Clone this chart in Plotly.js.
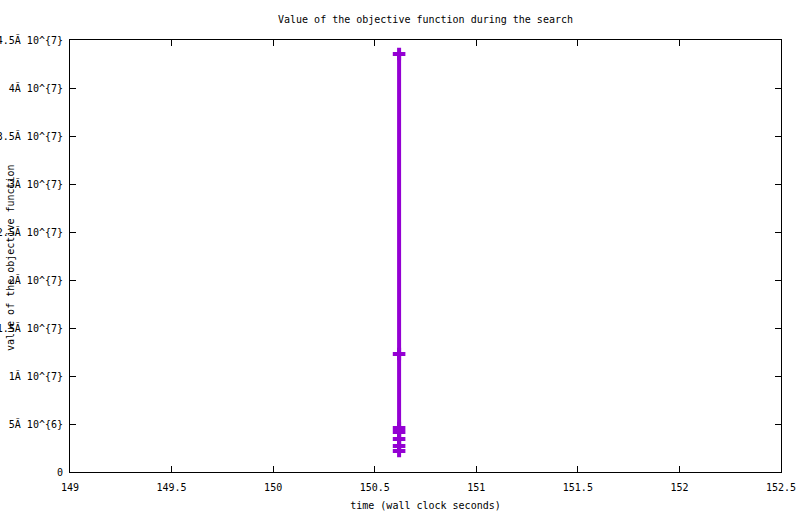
<!DOCTYPE html>
<html>
<head>
<meta charset="utf-8">
<script src="https://cdn.plot.ly/plotly-3.0.1.min.js"></script>
<style>html,body{margin:0;padding:0;background:#fff;}#chart{width:800px;height:514px;}</style>
</head>
<body>
<div id="chart"></div>
<script>
// time (wall clock seconds) of each evaluation
const times = [150.62, 150.62, 150.62, 150.62, 150.62, 150.62, 150.62];
// value of the objective function
const values = [43540000, 12290000, 4580000, 4170000, 3440000, 2710000, 2190000];

const xTickVals = [149, 149.5, 150, 150.5, 151, 151.5, 152, 152.5];
const xTickText = ["149", "149.5", "150", "150.5", "151", "151.5", "152", "152.5"];
const yTickVals = [0, 5e6, 1e7, 1.5e7, 2e7, 2.5e7, 3e7, 3.5e7, 4e7, 4.5e7];
const yTickText = ["0", "5Ă 10^{6}", "1Ă 10^{7}", "1.5Ă 10^{7}", "2Ă 10^{7}", "2.5Ă 10^{7}",
                   "3Ă 10^{7}", "3.5Ă 10^{7}", "4Ă 10^{7}", "4.5Ă 10^{7}"];

const color = "#9400d3";
const font = {family: "DejaVu Sans Mono, monospace", size: 10, color: "#000"};

const trace = {
  x: times, y: values, type: "scatter", mode: "lines+markers",
  line: {color: color, width: 4},
  marker: {symbol: "cross-thin", size: 9, color: color, line: {color: color, width: 4}},
  showlegend: false, hoverinfo: "skip"
};

const axisCommon = {
  showline: true, linecolor: "#000", linewidth: 1, mirror: "ticks",
  ticks: "inside", ticklen: 6, tickcolor: "#000", tickwidth: 1,
  showgrid: false, zeroline: false, tickfont: font, automargin: false
};

const layout = {
  width: 800, height: 514,
  margin: {l: 70, r: 19, t: 40, b: 42},
  paper_bgcolor: "#fff", plot_bgcolor: "#fff",
  font: font,
  title: {text: "Value of the objective function during the search", font: font,
          x: 0.5, xref: "paper", y: 1 - 19/514, yref: "container", yanchor: "middle"},
  xaxis: Object.assign({}, axisCommon, {
    range: [149, 152.5], tickmode: "array", tickvals: xTickVals, ticktext: xTickText,
    ticklabelstandoff: 6,
    title: {text: "time (wall clock seconds)", font: font, standoff: 9}
  }),
  yaxis: Object.assign({}, axisCommon, {
    range: [0, 4.5e7], tickmode: "array", tickvals: yTickVals, ticktext: yTickText,
    ticklabelstandoff: 4
  }),
  annotations: [{
    text: "value of the objective function", textangle: -90, showarrow: false,
    xref: "paper", yref: "paper", x: (10 - 70) / 711, y: (472 - 258) / 432,
    xanchor: "center", yanchor: "middle", font: font
  }]
};

Plotly.newPlot("chart", [trace], layout, {displayModeBar: false, staticPlot: true});
</script>
</body>
</html>
